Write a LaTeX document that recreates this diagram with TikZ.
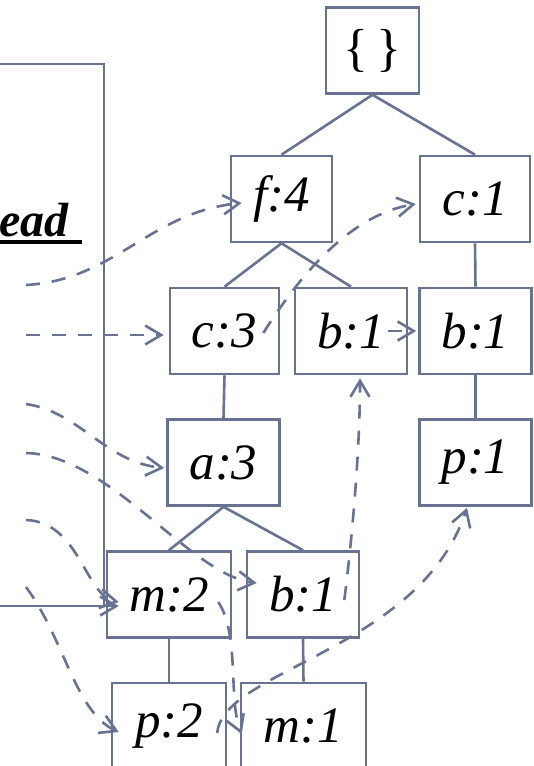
\documentclass[tikz,border=0pt]{standalone}
\usepackage{fontspec}
\setmainfont{Liberation Serif}
\usetikzlibrary{arrows.meta}

\definecolor{linkcol}{RGB}{104,114,146}

\begin{document}
\begin{tikzpicture}[x=1pt, y=-1pt]
  % Parameters
  \def\boxwidth{112}
  \def\boxheight{86}
  \def\linew{2.6pt}

  \tikzset{
    itembox/.style={draw=linkcol, line width=\linew, minimum width=\boxwidth pt,
      minimum height=\boxheight pt, inner sep=0pt,
      font=\fontsize{51}{51}\selectfont\itshape},
    treeedge/.style={draw=linkcol, line width=\linew},
    link/.style={draw=linkcol, line width=\linew, dash pattern=on 14pt off 12pt,
      -{Straight Barb[length=16pt, width=19pt]}},
    headlink/.style={draw=linkcol, line width=\linew,
      -{Straight Barb[length=16pt, width=19pt]}}
  }

  \useasboundingbox (0,0) rectangle (533,766);

  % Header table (cut off at the left edge)
  \draw[treeedge] (0,64) -| (104,606);
  \node[anchor=base west, inner sep=0pt, font=\fontsize{48}{48}\selectfont\bfseries\itshape] (head) at (-1,236) {ead};
  \draw[line width=4pt] ([yshift=-5.5pt]head.base west) -- ++(83,0);

  % Header entries
  \foreach \name/\y in {hf/285, hc/335, ha/404, hb/453, hm/520, hp/587}
    \coordinate (\name) at (26,\y);
  \coordinate (hline) at (0,606);

  % FP-tree nodes
  \node[itembox, minimum width=93pt, font=\fontsize{52}{52}\selectfont] (root) at (372.5,50.5) {\{\,\}};
  \node[itembox, minimum width=101pt] (f4) at (281.5,199) {f:4};
  \node[itembox, minimum width=110pt] (c1) at (475,199) {c:1};
  \node[itembox, minimum width=109pt] (c3) at (224.5,331) {c:3};
  \node[itembox] (b1a) at (351,331) {b:1};
  \node[itembox] (b1b) at (475.5,331) {b:1};
  \node[itembox] (a3) at (223.5,462.5) {a:3};
  \node[itembox] (p1) at (475.5,462.5) {p:1};
  \node[itembox, minimum width=124pt] (m2) at (169,594.5) {m:2};
  \node[itembox] (b1c) at (303,594.5) {b:1};
  \node[itembox, minimum width=114pt] (p2) at (169,726) {p:2};
  \node[itembox, minimum width=125pt] (m1) at (303.5,726) {m:1};

  % Tree edges
  \foreach \a/\b in {root/f4, root/c1, f4/c3, f4/b1a, c1/b1b, c3/a3, b1b/p1, a3/m2, a3/b1c, m2/p2, b1c/m1}
    \draw[treeedge] (\a.south) -- (\b.north);

  % Node links from the header table
  \draw[link] (hf) .. controls (115,280) and (150,212) .. ([xshift=12pt,yshift=-4pt]f4.west);
  \draw[link] (hc) -- ([xshift=-5pt,yshift=-4pt]c3.west);
  \draw[link] (ha) .. controls (80,412) and (105,462) .. ([xshift=-2pt,yshift=-5.5pt]a3.west);
  \draw[link] (hb) .. controls (110,455) and (190,575) .. ([xshift=11pt,yshift=11.5pt]b1c.west);
  \draw[link] (hm) .. controls (80,522) and (85,596) .. ([xshift=13pt,yshift=-7.5pt]m2.west);
  \draw[link] (hp) .. controls (65,640) and (75,712) .. ([xshift=8pt,yshift=-6pt]p2.west);
  \draw[headlink] (hline) -- ([xshift=13pt,yshift=-11.5pt]m2.west);

  % Node links inside the tree
  \draw[link] ([xshift=-17pt,yshift=-2pt]c3.east) .. controls (300,275) and (350,215) .. ([xshift=-3pt,yshift=-5pt]c1.west);
  \draw[link] ([xshift=-20pt]b1a.east) -- ([xshift=-2pt]b1b.west);
  \draw[link] ([xshift=-16pt,yshift=-5.5pt]b1c.east) .. controls (352,540) and (360,450) .. ([xshift=9pt,yshift=-3pt]b1a.south);
  \draw[link] ([xshift=-14pt,yshift=-7.5pt]m2.east) .. controls (240,635) and (228,700) .. ([xshift=2pt,yshift=-8pt]m1.west);
  \draw[link] ([xshift=-10pt,yshift=-7pt]p2.east) .. controls (222,670) and (420,650) .. ([xshift=-8.5pt,yshift=-1pt]p1.south);

\end{tikzpicture}
\end{document}
